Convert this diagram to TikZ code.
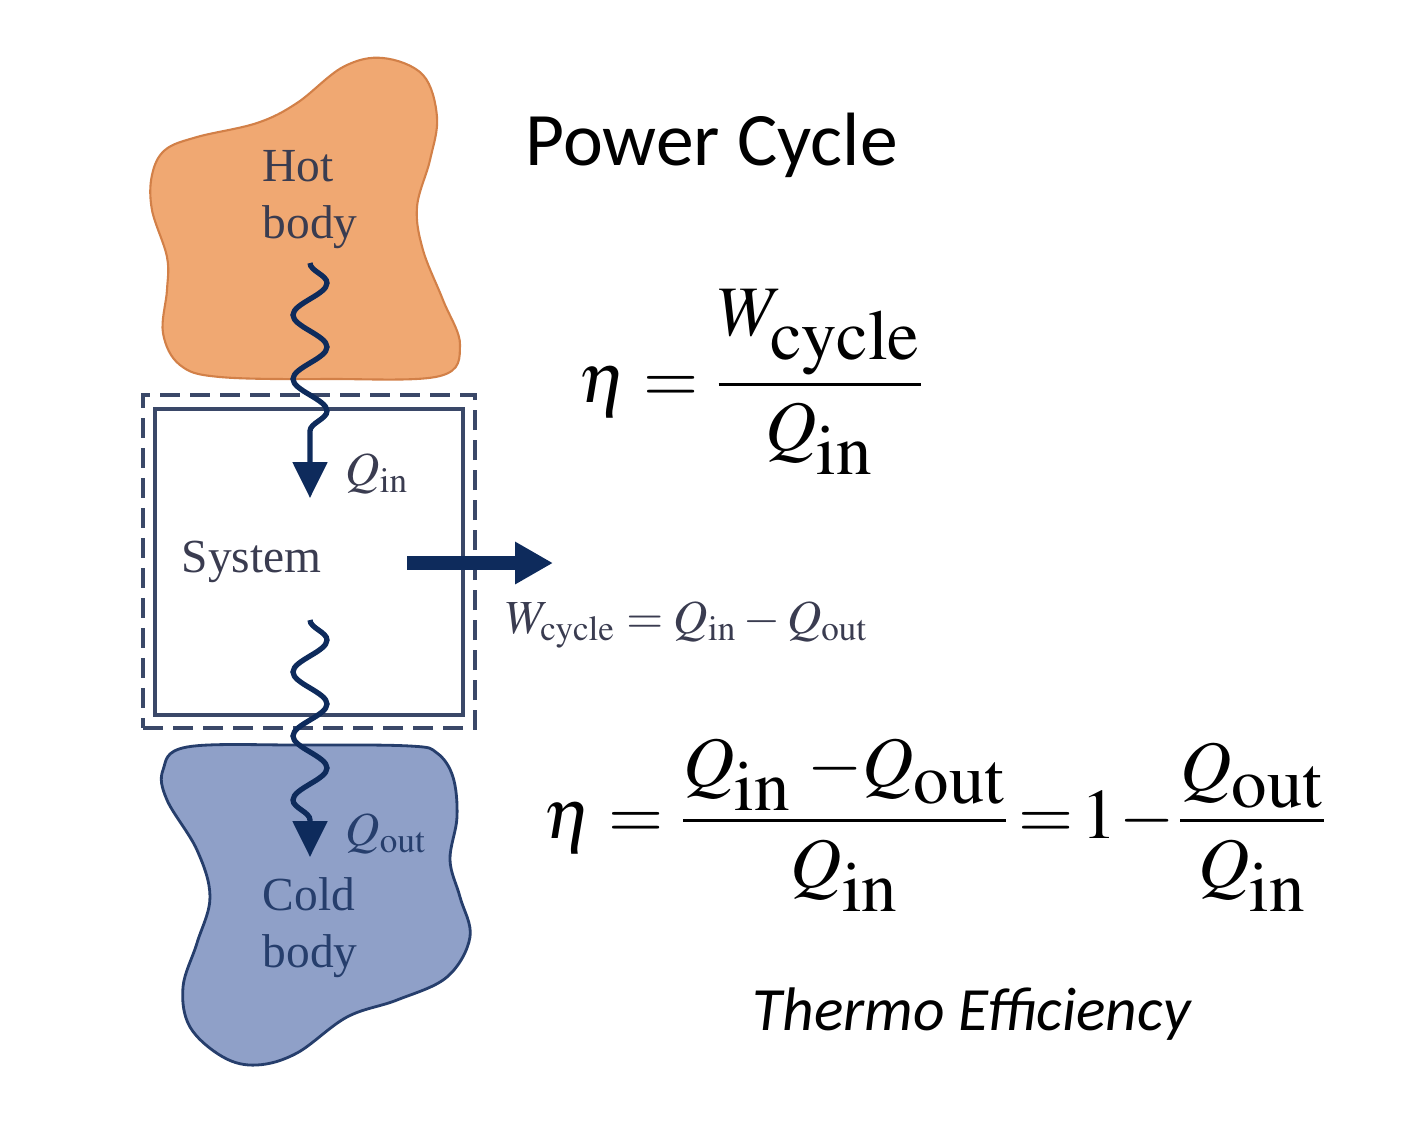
\documentclass[tikz,border=0pt]{standalone}
\usepackage{mathptmx}
\usepackage{fontspec}
\setmainfont{Liberation Serif}
\newfontfamily\calibri{Carlito}
\usetikzlibrary{arrows.meta,decorations.pathmorphing,positioning}

\definecolor{hotfill}{RGB}{240,168,114}
\definecolor{hotline}{RGB}{210,128,72}
\definecolor{coldfill}{RGB}{143,160,200}
\definecolor{coldline}{RGB}{38,62,108}
\definecolor{navy}{RGB}{14,43,92}
\definecolor{boxline}{RGB}{58,72,104}
\definecolor{labelgray}{RGB}{58,60,80}

\tikzset{
  heatflow/.style={navy, line width=1.5pt, decorate,
    decoration={snake, segment length=0.64cm, amplitude=0.17cm, post length=0.36cm},
    -{Triangle[length=0.36cm,width=0.34cm]}},
  bodytext/.style={inner sep=0pt, align=left, text=labelgray,
    font=\fontsize{13.5}{16.2}\selectfont},
  bigeq/.style={inner sep=0pt, font=\fontsize{20.2}{24}\selectfont}
}

\begin{document}
\begin{tikzpicture}
	\useasboundingbox (0,0) rectangle (14.14,-11.45);
	% Define heat flow wave start and end
	\def \waveX {3.10}
	% Draw hot body
	\draw[hotline, fill=hotfill, line width=0.6pt] plot[smooth cycle, tension=0.6] coordinates {
		(3.83,-0.58) (4.23,-0.75) (4.37,-1.17) (4.30,-1.60) (4.17,-2.07) (4.23,-2.50)
		(4.43,-3.00) (4.60,-3.45) (4.40,-3.76) (3.30,-3.79) (2.20,-3.77) (1.80,-3.65)
		(1.63,-3.33) (1.67,-2.90) (1.67,-2.57) (1.52,-2.10) (1.52,-1.75) (1.65,-1.50)
		(1.97,-1.37) (2.57,-1.23) (2.97,-1.03) (3.43,-0.67)};
	% Draw cold body
	\draw[coldline, fill=coldfill, line width=0.8pt] plot[smooth cycle, tension=0.6] coordinates {
		(1.87,-7.47) (1.63,-7.70) (1.67,-8.00) (1.97,-8.50) (2.10,-8.97) (1.97,-9.43)
		(1.83,-9.87) (1.90,-10.27) (2.23,-10.57) (2.57,-10.65) (2.97,-10.53) (3.47,-10.17)
		(3.97,-10.00) (4.47,-9.77) (4.70,-9.37) (4.60,-8.97) (4.50,-8.60) (4.57,-8.17)
		(4.53,-7.77) (4.37,-7.53) (4.10,-7.46) (3.00,-7.45)};
	% Draw system and its boundary
	\node (boundary) [draw=boxline, line width=1pt, dash pattern=on 0.2cm off 0.1cm,
		minimum width=3.32cm, minimum height=3.33cm, inner sep=0pt] at (3.09,-5.615) {};
	\node (system) [draw=boxline, line width=1pt,
		minimum width=3.08cm, minimum height=3.06cm, inner sep=0pt] at (3.09,-5.62) {};
	% Draw texts of the bodies
	\node (hot) [bodytext, anchor=north west] at (2.62,-1.50) {Hot\\body};
	\node (cold) [bodytext, anchor=north west, text=coldline] at (2.62,-8.77) {Cold\\body};
	\node (systext) [bodytext, anchor=base west] at (1.81,-5.72) {System};
	% Draw heat flows
	\coordinate (qinstart) at (\waveX,-2.63);
	\coordinate (qinend) at (\waveX,-4.98);
	\coordinate (qoutstart) at (\waveX,-6.20);
	\coordinate (qoutend) at (\waveX,-8.57);
	\draw[heatflow] (qinstart) -- (qinend);
	\draw[heatflow] (qoutstart) -- (qoutend);
	\node (qin) [bodytext, anchor=base west] at (3.45,-4.85) {$Q_{\mathrm{in}}$};
	\node (qout) [bodytext, anchor=base west, text=coldline] at (3.45,-8.45) {$Q_{\mathrm{out}}$};
	% Draw work arrow
	\coordinate (wstart) at (4.07,-5.63);
	\coordinate (wend) at (5.53,-5.63);
	\draw[navy, line width=0.14cm, -{Triangle[length=0.38cm,width=0.40cm]}] (wstart) -- (wend);
	\node (wcycle) [bodytext, anchor=base west] at (5.05,-6.33)
		{$W_{\mathrm{cycle}}=Q_{\mathrm{in}}-Q_{\mathrm{out}}$};
	% Draw title and equations
	\node (title) [inner sep=0pt, anchor=base west, font=\calibri\fontsize{21.5}{26}\selectfont]
		at (5.25,-1.65) {Power Cycle};
	\node (effone) [bigeq] at (7.52,-3.82)
		{$\displaystyle \eta=\frac{W_{\textstyle\mathrm{cycle}}}{Q_{\textstyle\mathrm{in}}}$};
	\node (efftwo) [bigeq] at (9.36,-8.25)
		{$\displaystyle \eta=\frac{Q_{\textstyle\mathrm{in}}\;{-}Q_{\textstyle\mathrm{out}}}{Q_{\textstyle\mathrm{in}}}\!=\!1\!-\!\frac{Q_{\textstyle\mathrm{out}}}{Q_{\textstyle\mathrm{in}}}$};
	\node (efflabel) [inner sep=0pt, anchor=base west, font=\calibri\itshape\fontsize{17.5}{21}\selectfont]
		at (7.52,-10.30) {Thermo Efficiency};
\end{tikzpicture}
\end{document}
